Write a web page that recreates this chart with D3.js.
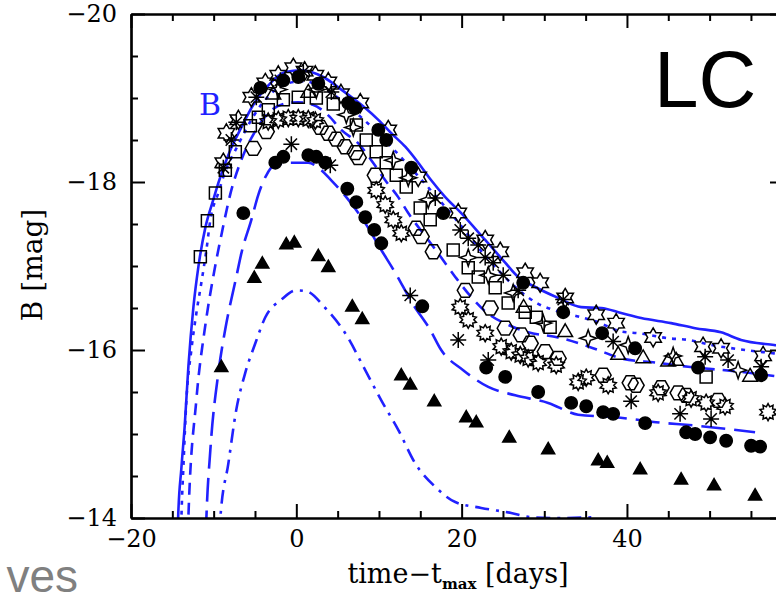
<!DOCTYPE html>
<html lang="en">
<head>
<meta charset="UTF-8">
<title>B light curves</title>
<script src="https://d3js.org/d3.v7.min.js"></script>
<style>
  body { margin: 0; background: #fff; }
  svg { display: block; }
</style>
</head>
<body>
<svg id="chart"></svg>
<script>
// ---------------- data (days since max, B mag) ----------------
var xMajor = [-20, 0, 20, 40];
var yMajor = [-20, -18, -16, -14];

// model curves
var solidT = [-14.35, -14.3, -13.9, -13.5, -13.06, -12.45, -11.85, -11.0, -10.04, -9.43, -7.98, -6.65, -5.2, -3.39, -1.33, 0.6, 1.81, 3.26, 5.44, 8.34, 9.92, 11.49, 13.18, 14.75, 16.32, 18.02, 19.95, 22.85, 25.27, 26.84, 28.9, 31.68, 34.46, 36.88, 39.3, 41.72, 45.34, 48.25, 51.39, 53.81, 57.8, 59.5];
var solidM = [-13.8, -14.0, -14.6, -15.1, -15.8, -16.51, -16.99, -17.46, -17.79, -17.99, -18.38, -18.65, -18.92, -19.15, -19.31, -19.33, -19.31, -19.25, -19.1, -18.88, -18.74, -18.58, -18.42, -18.23, -18.02, -17.82, -17.63, -17.31, -17.04, -16.87, -16.75, -16.62, -16.51, -16.5, -16.44, -16.38, -16.32, -16.26, -16.21, -16.12, -16.06, -16.04];

var dotT = [-13.95, -13.9, -13.66, -13.3, -12.7, -12.09, -11.49, -10.88, -10.4, -9.43, -8.83, -7.0, -5.2, -3.4, -1.2, 0.85, 2.66, 5.08, 7.5, 9.92, 12.33, 14.75, 17.17, 19.59, 22.0, 24.43, 26.84, 29.26, 31.68, 34.1, 36.5, 39.3, 41.4, 45.0, 47.4, 50.2, 54.3, 57.8, 59.5];
var dotM = [-13.8, -14.0, -14.61, -15.4, -16.0, -16.44, -16.8, -17.19, -17.55, -17.87, -18.06, -18.45, -18.78, -19.02, -19.17, -19.2, -19.15, -19.0, -18.8, -18.58, -18.33, -18.07, -17.8, -17.52, -17.22, -16.95, -16.72, -16.55, -16.46, -16.4, -16.33, -16.22, -16.2, -16.14, -16.12, -16.06, -16.0, -15.96, -15.94];

var dashT = [-13.12, -13.06, -12.1, -11.0, -10.0, -9.0, -8.0, -6.5, -5.0, -3.4, -1.5, 0.2, 2.0, 3.9, 5.44, 7.5, 9.07, 10.76, 12.33, 13.54, 15.96, 17.53, 19.23, 21.16, 22.97, 25.63, 28.05, 31.68, 36.52, 39.3, 43.5, 47.4, 53.8, 57.8, 59.5];
var dashM = [-13.8, -14.0, -15.4, -16.3, -16.9, -17.4, -17.85, -18.3, -18.6, -18.82, -18.93, -18.95, -18.92, -18.79, -18.62, -18.46, -18.26, -18.02, -17.82, -17.63, -17.31, -17.1, -16.87, -16.63, -16.45, -16.3, -16.21, -16.15, -16.0, -15.9, -15.85, -15.8, -15.74, -15.69, -15.67];

var longT = [-10.95, -10.88, -10.4, -9.43, -8.59, -7.26, -6.65, -5.44, -4.59, -3.63, -2.78, -0.6, 1.45, 2.66, 4.23, 6.53, 8.34, 10.16, 11.97, 14.15, 16.2, 17.53, 20.19, 23.22, 26.48, 30.47, 34.1, 38.57, 44.62, 47.16, 55.5];
var longM = [-13.8, -14.0, -14.81, -15.73, -16.25, -16.87, -17.15, -17.55, -17.85, -18.08, -18.19, -18.23, -18.23, -18.17, -18.02, -17.76, -17.51, -17.21, -16.92, -16.54, -16.24, -16.0, -15.76, -15.56, -15.46, -15.37, -15.23, -15.2, -15.13, -15.11, -15.02];

var ddotT = [-9.3, -9.19, -8.22, -7.26, -6.17, -4.96, -3.75, -1.81, 0.0, 1.21, 3.51, 5.92, 8.34, 10.28, 12.33, 14.39, 16.81, 19.23, 22.37, 26.0, 28.42, 31.68, 36.52];
var ddotM = [-13.8, -14.0, -14.65, -15.29, -15.73, -16.08, -16.39, -16.6, -16.71, -16.7, -16.5, -16.2, -15.76, -15.4, -15.05, -14.65, -14.37, -14.19, -14.12, -14.06, -14.01, -14.0, -14.01];

// observed points
var sqT = [-11.61, -10.76, -9.79, -8.59, -7.38, -5.56, -4.59, -3.39, -1.57, 0.24, 2.42, 4.47, 7.26, 8.46, 9.67, 10.88, 12.09, 13.3, 14.99, 16.2, 18.98, 20.8, 22.01, 24.06, 25.63, 27.69, 29.03, 30.71, 49.58];
var sqM = [-17.11, -17.54, -17.87, -18.14, -18.36, -18.67, -18.77, -18.86, -18.98, -19.01, -19.0, -18.93, -18.68, -18.5, -18.36, -18.23, -18.08, -17.94, -17.69, -17.55, -17.19, -16.98, -16.87, -16.74, -16.56, -16.45, -16.39, -16.27, -15.68];

var hgT = [-8.83, -8.46, -7.01, -5.44, -3.75, -2.18, -0.36, 1.0, 2.3, 3.87, 5.4, 7.74, 11.12, 14.75, 19.59, 22.85, 24.67, 27.69, 29.5, 32.53, 36.28, 38.69, 43.17, 49.21, 51.39, 56.47];
var hgM = [-18.23, -18.58, -18.74, -19.01, -19.18, -19.27, -19.36, -19.32, -19.27, -19.19, -19.05, -18.94, -18.62, -18.06, -17.63, -17.31, -17.17, -16.92, -16.8, -16.62, -16.42, -16.32, -16.15, -16.04, -16.02, -15.93];

var astT = [-8.83, -7.86, -7.26, -4.84, -1.93, 0.85, 4.23, 16.81, 19.83, 20.8, 22.01, 22.85, 23.82, 25.03, 26.84, 32.29, 38.33, 49.46, 52.24, 56.23, -0.6, 4.11, 13.78, 19.59, 23.22, 40.51, 46.43, 50.18];
var astM = [-18.17, -18.5, -18.71, -19.01, -19.21, -19.31, -19.07, -17.81, -17.43, -17.33, -17.25, -17.1, -17.04, -16.89, -16.71, -16.6, -16.1, -15.92, -15.88, -15.8, -18.45, -18.2, -16.65, -16.12, -15.88, -15.39, -15.24, -15.18];

var fcT = [-4.35, -1.57, 0.24, 2.66, 6.29, 7.13, 9.92, 10.88, 13.91, 17.78, 27.45, 32.29, 37.0, 40.99, 48.61, 56.23,
           -6.41, -2.54, -1.57, 1.45, 2.42, 3.51, 6.17, 7.26, 8.34, 9.43, 10.28, 15.24, 22.97, 25.27, 29.26, 33.25, 35.07, 37.12, 38.33, 42.2, 47.16, 48.25, 50.06, 52.0, 55.02, 56.11];
var fcM = [-19.12, -19.21, -19.25, -19.17, -18.94, -18.88, -18.62, -18.5, -18.17, -17.63, -16.8, -16.45, -16.2, -16.02, -15.79, -15.7,
           -17.63, -18.23, -18.3, -18.32, -18.3, -18.23, -17.92, -17.76, -17.58, -17.43, -17.27, -16.52, -15.79, -15.68, -15.5, -15.37, -15.33, -15.26, -15.24, -15.13, -15.02, -15.0, -14.96, -14.92, -14.86, -14.85];

var otT = [-2.78, 1.45, 27.5, 32.53, 38.94, 41.96, 44.98, 45.95, 54.9];
var otM = [-19.04, -19.06, -16.5, -16.21, -15.94, -15.9, -15.86, -15.87, -15.68];

var ftT = [-9.07, -5.08, -4.11, -1.21, -0.24, 2.66, 3.87, 6.77, 7.98, 12.7, 13.78, 16.69, 20.56, 21.77, 25.76, 30.47, 36.52, 37.61, 41.6, 46.55, 50.54, 55.5];
var ftM = [-15.79, -16.85, -17.02, -17.25, -17.27, -17.11, -16.98, -16.51, -16.36, -15.69, -15.58, -15.38, -15.19, -15.13, -14.95, -14.81, -14.68, -14.65, -14.57, -14.45, -14.38, -14.26];

var s4T = [-2.18, 2.42, 6.05, 6.89, 11.73, 13.54, 15.96, 20.8, 23.22, 26.24, 29.87, 35.31, 40.15, 45.59, 53.45];
var s4M = [-19.1, -19.1, -18.8, -18.65, -18.26, -18.05, -17.79, -17.1, -16.89, -16.68, -16.32, -16.14, -16.06, -15.93, -15.76];

var hxT = [-5.2, -3.63, 2.9, 3.87, 4.84, 5.92, 7.13, 7.5, 9.55, 14.51, 15.11, 16.57, 20.44, 23.46, 25.27, 27.21, 28.3, 30.11, 31.68, 37.12, 40.39, 41.11, 44.14, 46.19, 47.16, 51.03];
var hxM = [-18.4, -18.6, -18.65, -18.58, -18.51, -18.42, -18.35, -18.29, -18.08, -17.45, -17.35, -17.17, -16.71, -16.5, -16.26, -16.18, -16.08, -15.98, -15.9, -15.7, -15.61, -15.58, -15.55, -15.49, -15.46, -15.4];

var sbT = [-3.4, -2.18, -0.97, 0.24, 1.45, 2.3, 9.67, 10.76, 11.73, 12.7, 19.83, 20.8, 22.85, 24.79, 26.0, 27.09, 28.05, 29.26, 31.44, 34.1, 35.07, 37.73, 43.77, 47.76, 49.58, 51.87, 57.07];
var sbM = [-18.72, -18.74, -18.76, -18.76, -18.75, -18.73, -17.9, -17.73, -17.55, -17.39, -16.51, -16.36, -16.2, -16.04, -15.98, -15.94, -15.9, -15.85, -15.82, -15.62, -15.67, -15.58, -15.49, -15.42, -15.37, -15.33, -15.26];

// ---------------- layout ----------------
var W = 776, H = 595;
// plot box in pixels (named so as not to clash with window.top)
var box = {x0: 131, y0: 14, x1: 784, y1: 518};
var blue = "#2121ff";
var serif = "'DejaVu Serif', serif";

var svg = d3.select("#chart").attr("width", W).attr("height", H);

var x = d3.scaleLinear().domain([-20, 59]).range([box.x0, box.x1]);
var y = d3.scaleLinear().domain([-20, -14]).range([box.y0, box.y1]);

svg.append("defs").append("clipPath").attr("id", "plotClip")
    .append("rect").attr("x", box.x0).attr("y", box.y0)
    .attr("width", box.x1 - box.x0).attr("height", box.y1 - box.y0);

// ---------------- model curves ----------------
function zip(t, m) { return t.map(function (d, i) { return [d, m[i]]; }); }

var line = d3.line()
    .x(function (d) { return x(d[0]); })
    .y(function (d) { return y(d[1]); })
    .curve(d3.curveMonotoneX);

var curves = [
    {pts: zip(solidT, solidM), dash: null},
    {pts: zip(dotT, dotM), dash: "4,6"},
    {pts: zip(dashT, dashM), dash: "12,8"},
    {pts: zip(longT, longM), dash: "24,9"},
    {pts: zip(ddotT, ddotM), dash: "14,7,3,7"}
];

svg.append("g").attr("clip-path", "url(#plotClip)")
    .selectAll("path").data(curves).enter().append("path")
    .attr("d", function (d) { return line(d.pts); })
    .attr("fill", "none")
    .attr("stroke", blue)
    .attr("stroke-width", 2.6)
    .attr("stroke-dasharray", function (d) { return d.dash; });

// ---------------- marker shapes ----------------
function starPath(ctx, n, ro, ri) {
    for (var i = 0; i < 2 * n; i++) {
        var r = i % 2 ? ri : ro, a = -Math.PI / 2 + i * Math.PI / n;
        if (i === 0) ctx.moveTo(r * Math.cos(a), r * Math.sin(a));
        else ctx.lineTo(r * Math.cos(a), r * Math.sin(a));
    }
    ctx.closePath();
}
var symHexagram = {draw: function (ctx, s) { var r = Math.sqrt(s); starPath(ctx, 6, r, r * 0.58); }};
var symBurst = {draw: function (ctx, s) { var r = Math.sqrt(s); starPath(ctx, 10, r, r * 0.66); }};
var symStar4 = {draw: function (ctx, s) { var r = Math.sqrt(s); starPath(ctx, 4, r, r * 0.36); }};
var symHexagon = {draw: function (ctx, s) {
    var r = Math.sqrt(s);
    for (var i = 0; i < 6; i++) {
        var a = i * Math.PI / 3;
        if (i === 0) ctx.moveTo(r, 0); else ctx.lineTo(r * Math.cos(a), r * Math.sin(a));
    }
    ctx.closePath();
}};
var symSquare = {draw: function (ctx, s) {
    var r = Math.sqrt(s);
    ctx.moveTo(-r, -r); ctx.lineTo(r, -r); ctx.lineTo(r, r); ctx.lineTo(-r, r); ctx.closePath();
}};
var symTri = {draw: function (ctx, s) {
    var r = Math.sqrt(s);
    ctx.moveTo(0, -r); ctx.lineTo(r * 0.866, r * 0.5); ctx.lineTo(-r * 0.866, r * 0.5); ctx.closePath();
}};
var symAst = {draw: function (ctx, s) {
    var r = Math.sqrt(s);
    for (var i = 0; i < 4; i++) {
        var a = i * Math.PI / 4;
        ctx.moveTo(r * Math.cos(a), r * Math.sin(a));
        ctx.lineTo(-r * Math.cos(a), -r * Math.sin(a));
    }
}};
var symDot = {draw: function (ctx, s) { var r = Math.sqrt(s); ctx.moveTo(r, 0); ctx.arc(0, 0, r, 0, 2 * Math.PI); }};

var series = [
    {t: ftT, m: ftM, type: symTri, r: 7.5, fill: "#000"},
    {t: hxT, m: hxM, type: symHexagon, r: 8, fill: "none"},
    {t: sbT, m: sbM, type: symBurst, r: 8.5, fill: "none"},
    {t: fcT, m: fcM, type: symDot, r: 6.2, fill: "#000"},
    {t: sqT, m: sqM, type: symSquare, r: 6, fill: "none"},
    {t: s4T, m: s4M, type: symStar4, r: 8.5, fill: "none"},
    {t: otT, m: otM, type: symTri, r: 8.5, fill: "none"},
    {t: hgT, m: hgM, type: symHexagram, r: 9.5, fill: "none"},
    {t: astT, m: astM, type: symAst, r: 8, fill: "none"}
];

series.forEach(function (s) {
    var sym = d3.symbol().type(s.type).size(s.r * s.r);
    svg.append("g").selectAll("path").data(zip(s.t, s.m)).enter().append("path")
        .attr("transform", function (d) { return "translate(" + x(d[0]) + "," + y(d[1]) + ")"; })
        .attr("d", sym)
        .attr("fill", s.fill)
        .attr("stroke", "#000")
        .attr("stroke-width", 1.5);
});

// ---------------- axes (inward ticks on all four sides) ----------------
function styleAxis(g) {
    g.selectAll("path.domain").attr("stroke", "#000").attr("stroke-width", 2.2);
    g.selectAll(".tick line").attr("stroke", "#000").attr("stroke-width", 2);
    g.selectAll("text").attr("font-family", serif).attr("font-size", 24).attr("fill", "#000");
}
var xMinor = d3.range(-20, 60, 5).filter(function (v) { return xMajor.indexOf(v) < 0; });
var yMinor = d3.range(-20, -13.9, 0.5).filter(function (v) { return yMajor.indexOf(v) < 0; });
var intFmt = d3.format("d");

svg.append("g").attr("transform", "translate(0," + box.y1 + ")")
    .call(d3.axisBottom(x).tickValues(xMinor).tickSizeInner(-7).tickSizeOuter(0).tickFormat(""))
    .call(styleAxis);
svg.append("g").attr("transform", "translate(0," + box.y1 + ")")
    .call(d3.axisBottom(x).tickValues(xMajor).tickSizeInner(-14).tickSizeOuter(0).tickPadding(12).tickFormat(intFmt))
    .call(styleAxis);
svg.append("g").attr("transform", "translate(0," + box.y0 + ")")
    .call(d3.axisTop(x).tickValues(xMinor).tickSizeInner(-7).tickSizeOuter(0).tickFormat(""))
    .call(styleAxis);
svg.append("g").attr("transform", "translate(0," + box.y0 + ")")
    .call(d3.axisTop(x).tickValues(xMajor).tickSizeInner(-14).tickSizeOuter(0).tickFormat(""))
    .call(styleAxis);
svg.append("g").attr("transform", "translate(" + box.x0 + ",0)")
    .call(d3.axisLeft(y).tickValues(yMinor).tickSizeInner(-7).tickSizeOuter(0).tickFormat(""))
    .call(styleAxis);
svg.append("g").attr("transform", "translate(" + box.x0 + ",0)")
    .call(d3.axisLeft(y).tickValues(yMajor).tickSizeInner(-14).tickSizeOuter(0).tickPadding(14).tickFormat(intFmt))
    .call(styleAxis);
svg.append("g").attr("transform", "translate(" + box.x1 + ",0)")
    .call(d3.axisRight(y).tickValues(yMinor).tickSizeInner(-7).tickSizeOuter(0).tickFormat(""))
    .call(styleAxis);
svg.append("g").attr("transform", "translate(" + box.x1 + ",0)")
    .call(d3.axisRight(y).tickValues(yMajor).tickSizeInner(-14).tickSizeOuter(0).tickFormat(""))
    .call(styleAxis);

// ---------------- labels ----------------
var xl = svg.append("text")
    .attr("x", 458).attr("y", 583)
    .attr("text-anchor", "middle")
    .attr("font-family", serif).attr("font-size", 27).attr("fill", "#000");
xl.append("tspan").text("time\u2212t");
xl.append("tspan").attr("dy", 6).attr("font-size", 15).attr("font-weight", "bold").text("max");
xl.append("tspan").attr("dy", -6).text(" [days]");

svg.append("text")
    .attr("transform", "translate(42,265) rotate(-90)")
    .attr("text-anchor", "middle")
    .attr("font-family", serif).attr("font-size", 28).attr("fill", "#000")
    .text("B [mag]");

svg.append("text")
    .attr("x", 199).attr("y", 115)
    .attr("font-family", serif).attr("font-size", 30).attr("fill", blue)
    .text("B");

// slide overlay text
svg.append("text")
    .attr("x", 654).attr("y", 107)
    .attr("font-family", "'Liberation Sans', Arial, sans-serif").attr("font-size", 80).attr("fill", "#000")
    .text("LC");

svg.append("text")
    .attr("x", 78).attr("y", 592)
    .attr("text-anchor", "end")
    .attr("font-family", "'Liberation Sans', Arial, sans-serif").attr("font-size", 46).attr("fill", "#808080")
    .text("ves");
</script>
</body>
</html>
